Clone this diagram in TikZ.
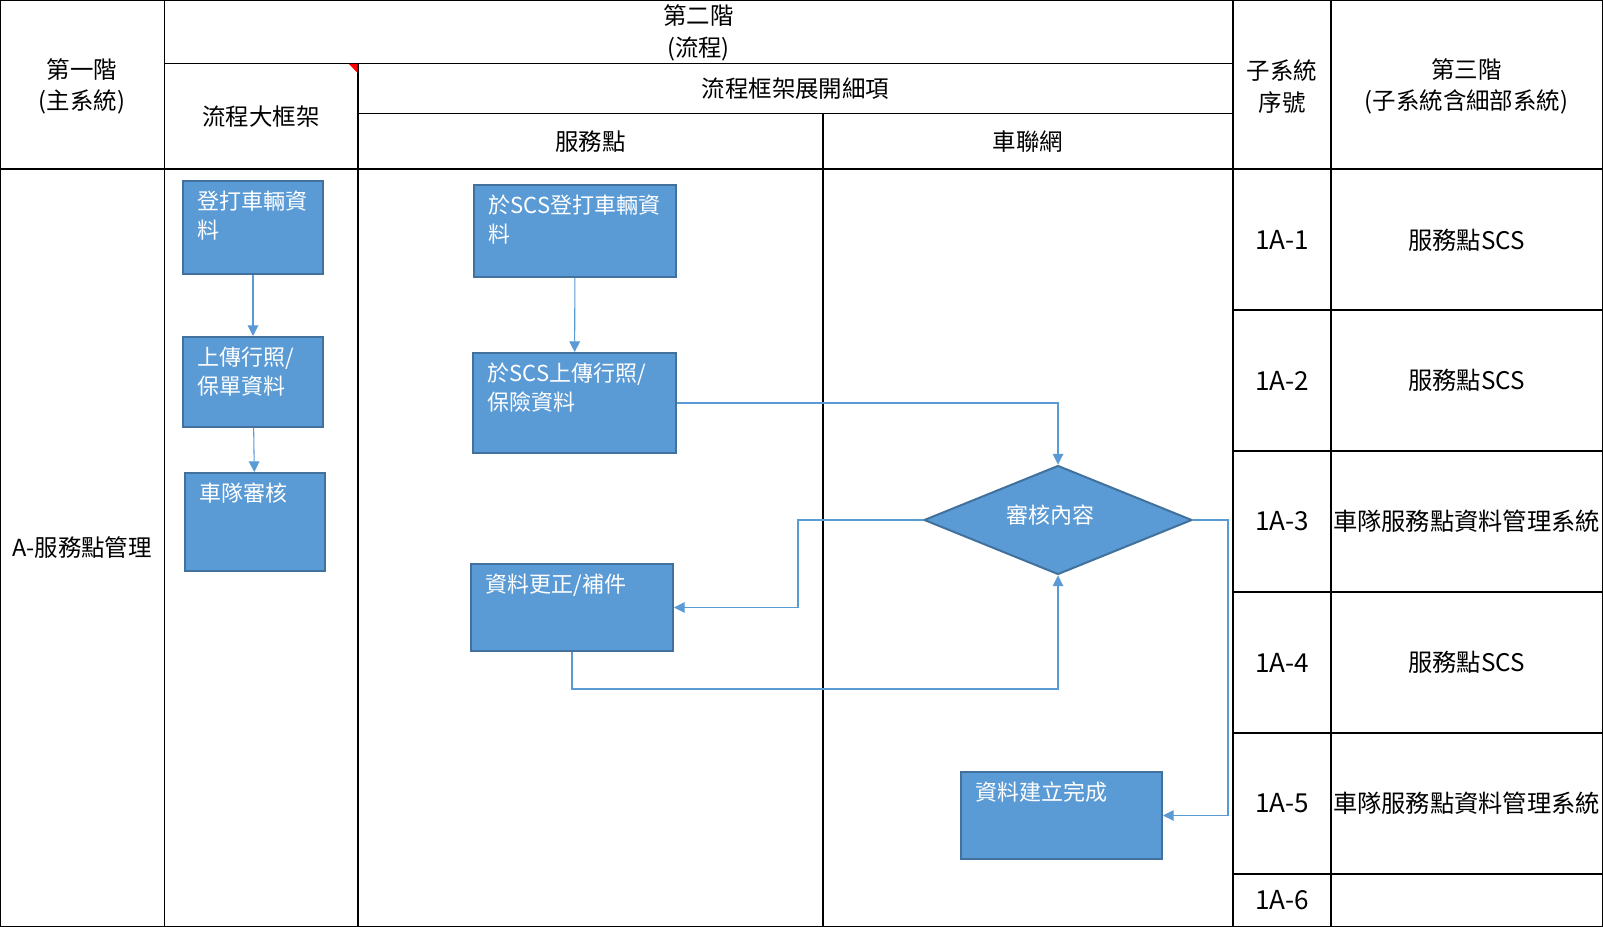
\documentclass[tikz,border=0pt]{standalone}
\usepackage{fontspec}
\setmainfont{Noto Sans CJK TC}
\usetikzlibrary{arrows.meta,shapes.geometric}
\definecolor{procFill}{RGB}{91,155,213}
\definecolor{procEdge}{RGB}{65,113,156}
\definecolor{flowLine}{RGB}{91,155,213}
\newcommand{\hdrFont}{\fontsize{17.6pt}{23.6pt}\selectfont}
\newcommand{\tblFont}{\fontsize{18.2pt}{24pt}\selectfont}
\newcommand{\numFont}{\fontsize{19.6pt}{24pt}\selectfont}
\newcommand{\boxFont}{\fontsize{16.5pt}{21.8pt}\selectfont}
\tikzset{
  gridLine/.style={black, line width=1pt},
  cellText/.style={font=\hdrFont, align=center, inner sep=0pt},
  rowText/.style={font=\tblFont, inner sep=0pt},
  rowNum/.style={font=\numFont, inner sep=0pt},
  procBox/.style={draw=procEdge, fill=procFill, line width=1.5pt, inner sep=0pt},
  boxText/.style={font=\boxFont, text=white, align=left, inner sep=0pt, anchor=north west, xshift=11.5pt, yshift=-8pt},
  diaText/.style={font=\boxFont, text=white, inner sep=0pt, anchor=center, xshift=-5.5pt, yshift=4pt},
  flowArrow/.style={draw=flowLine, line width=0.8pt, -{Triangle[length=8pt,width=8pt]}},
}

\begin{document}
\begin{tikzpicture}[x=0.75pt,y=-0.75pt]
\fill[white] (0,0) rectangle (1603,927);
\useasboundingbox (0,0) rectangle (1603,927);
% table grid
\draw[gridLine] (0.7,0.7) rectangle (1602.3,926.3);
\draw[gridLine] (164.5,0) -- (164.5,927);
\draw[gridLine] (358,63.5) -- (358,927);
\draw[gridLine] (823,113.5) -- (823,927);
\draw[gridLine] (1233,0) -- (1233,927);
\draw[gridLine] (1331,0) -- (1331,927);
\draw[gridLine] (164.5,63.5) -- (1233,63.5);
\draw[gridLine] (358,113.5) -- (1233,113.5);
\draw[gridLine] (0,169) -- (1603,169);
\draw[gridLine] (1233,310) -- (1603,310);
\draw[gridLine] (1233,451) -- (1603,451);
\draw[gridLine] (1233,592) -- (1603,592);
\draw[gridLine] (1233,733) -- (1603,733);
\draw[gridLine] (1233,874) -- (1603,874);
\fill[red] (349,64) -- (357.5,64) -- (357.5,73) -- cycle;
% header texts
\node[cellText] (lvlOne) at (82,86.5) {第一階\\(主系統)};
\node[cellText] (lvlTwo) at (698.5,33) {第二階\\(流程)};
\node[cellText] (frame) at (261,117) {流程大框架};
\node[cellText] (detail) at (795.5,88.5) {流程框架展開細項};
\node[cellText] (svcPoint) at (590.5,142) {服務點};
\node[cellText] (carNet) at (1028,142) {車聯網};
\node[cellText] (subNo) at (1282,86.5) {子系統\\序號};
\node[cellText] (lvlThree) at (1466.5,86.5) {第三階\\(子系統含細部系統)};
\node[cellText] (mainSys) at (82,547.5) {A-服務點管理};
% subsystem rows
\node[rowNum] (noOne) at (1282,240) {1A-1};
\node[rowText] (sysOne) at (1466.5,240) {服務點SCS};
\node[rowNum] (noTwo) at (1282,380.5) {1A-2};
\node[rowText] (sysTwo) at (1466.5,380.5) {服務點SCS};
\node[rowNum] (noThree) at (1282,521.5) {1A-3};
\node[rowText] (sysThree) at (1466.5,521.5) {車隊服務點資料管理系統};
\node[rowNum] (noFour) at (1282,662.5) {1A-4};
\node[rowText] (sysFour) at (1466.5,662.5) {服務點SCS};
\node[rowNum] (noFive) at (1282,803.5) {1A-5};
\node[rowText] (sysFive) at (1466.5,803.5) {車隊服務點資料管理系統};
\node[rowNum] (noSix) at (1282,900) {1A-6};
% framework column
\node[procBox, minimum width=105pt, minimum height=69.75pt, label={[boxText]north west:登打車輛資\\料}] (regL) at (253,227.5) {};
\node[procBox, minimum width=105pt, minimum height=67.5pt, label={[boxText]north west:上傳行照/\\保單資料}] (uplL) at (253,382) {};
\node[procBox, minimum width=105pt, minimum height=73.5pt, label={[boxText]north west:車隊審核}] (fleetL) at (255,522) {};
% detail flow
\node[procBox, minimum width=151.5pt, minimum height=69pt, label={[boxText]north west:於SCS登打車輛資\\料}] (regM) at (575,231) {};
\node[procBox, minimum width=152.25pt, minimum height=75pt, label={[boxText]north west:於SCS上傳行照/\\保險資料}] (uplM) at (574.5,403) {};
\node[procBox, minimum width=151.5pt, minimum height=65.25pt, label={[boxText]north west:資料更正/補件}] (fixM) at (572,607.5) {};
\node[procBox, diamond, aspect=2.5, minimum width=201pt, minimum height=81.75pt, label={[diaText]center:審核內容}] (check) at (1058,520) {};
\node[procBox, minimum width=150.75pt, minimum height=65.25pt, label={[boxText]north west:資料建立完成}] (done) at (1061.5,815.5) {};
% connectors
\draw[flowArrow] (regL) -- (uplL);
\draw[flowArrow] (uplL) -- (fleetL);
\draw[flowArrow] (regM) -- (uplM);
\draw[flowArrow] (uplM.east) -| (check.north);
\draw[flowArrow] (check.west) -- ++(-125,0) |- (fixM.east);
\draw[flowArrow] (fixM.south) -- ++(0,37) -| (check.south);
\draw[flowArrow] (check.east) -- ++(35,0) |- (done.east);
\end{tikzpicture}
\end{document}
